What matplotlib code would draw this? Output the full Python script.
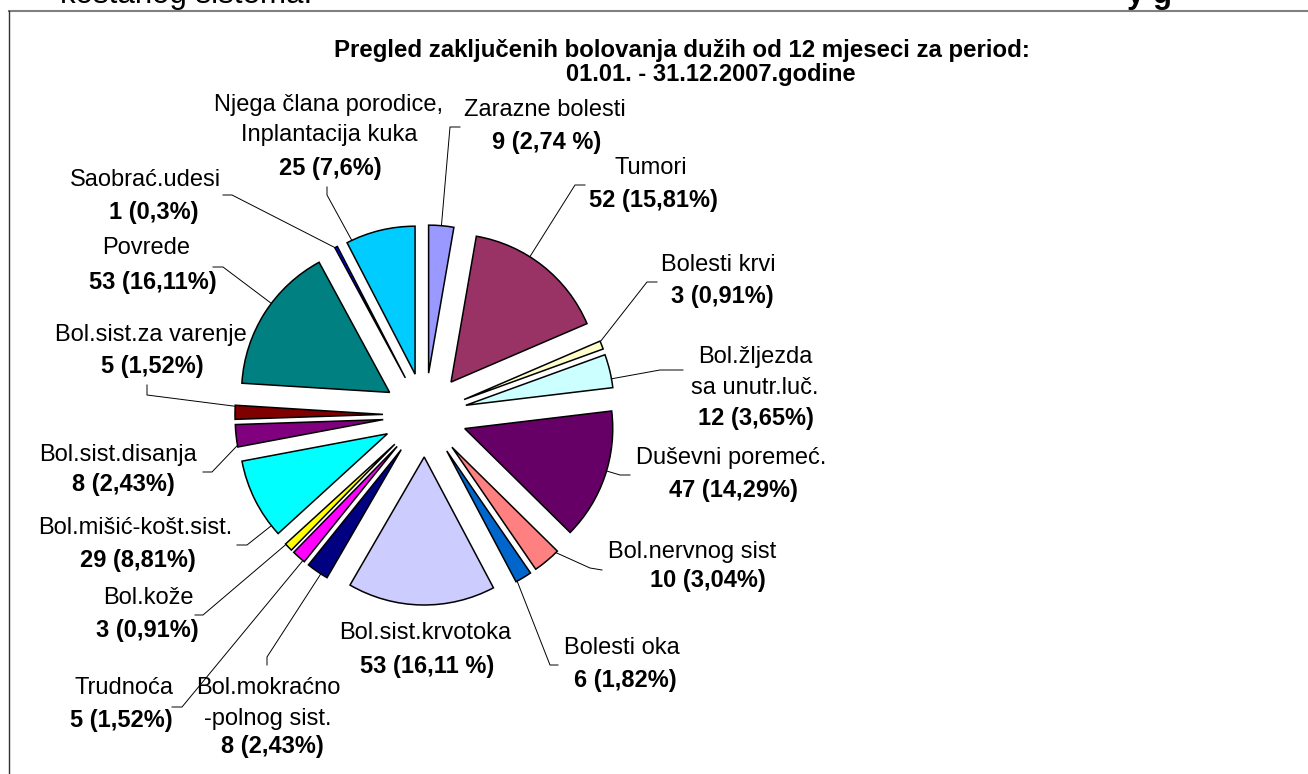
import math
import matplotlib.pyplot as plt

plt.rcParams['font.family'] = ['Liberation Sans', 'DejaVu Sans']

W, H = 1308, 774

# podaci
names = ["Zarazne bolesti", "Tumori", "Bolesti krvi", "Bol.žljezda\nsa unutr.luč.",
         "Duševni poremeć.", "Bol.nervnog sist", "Bolesti oka", "Bol.sist.krvotoka",
         "Bol.mokraćno\n-polnog sist.", "Trudnoća", "Bol.kože", "Bol.mišić-košt.sist.",
         "Bol.sist.disanja", "Bol.sist.za varenje", "Povrede", "Saobrać.udesi",
         "Njega člana porodice,\nInplantacija kuka"]
counts = [9, 52, 3, 12, 47, 10, 6, 53, 8, 5, 3, 29, 8, 5, 53, 1, 25]
value_labels = ["9 (2,74 %)", "52 (15,81%)", "3 (0,91%)", "12 (3,65%)", "47 (14,29%)",
                "10 (3,04%)", "6 (1,82%)", "53 (16,11 %)", "8 (2,43%)", "5 (1,52%)",
                "3 (0,91%)", "29 (8,81%)", "8 (2,43%)", "5 (1,52%)", "53 (16,11%)",
                "1 (0,3%)", "25 (7,6%)"]
colors = ["#9999FF", "#993366", "#FFFFCC", "#CCFFFF", "#660066", "#FF8080", "#0066CC",
          "#CCCCFF", "#000080", "#FF00FF", "#FFFF00", "#00FFFF", "#800080", "#800000",
          "#008080", "#0000FF", "#00CCFF"]
title1 = "Pregled zaključenih bolovanja dužih od 12 mjeseci za period:"
title2 = "01.01. - 31.12.2007.godine"

# raspored (pikseli slike)
CX, CY, R, EXPL = 425, 415, 148, 42
name_pos = [(545, 110), (651, 168), (718, 265), (755, 357), (731, 458), (692, 552),
            (622, 648), (425, 633), (268, 688), (124, 688), (148, 598), (135, 528),
            (118, 455), (151, 335), (146, 248), (145, 180), (329, 105)]
value_pos = [(547, 143), (653, 200), (722, 297), (756, 418), (733, 490), (708, 581),
             (625, 680), (427, 667), (272, 747), (121, 720), (147, 630), (138, 560),
             (123, 485), (152, 367), (153, 282), (154, 212), (330, 168)]
leaders = [((460, 127), (450, 127)), ((585, 185), (575, 185)), ((657, 282), (647, 282)),
           ((683, 370), (660, 370)), ((630, 475), (620, 475)), ((602, 570), (590, 568)),
           ((558, 665), (550, 665)), None, ((267, 665), (267, 657)),
           ((172, 707), (182, 707)), ((195, 615), (203, 615)), ((237, 545), (247, 545)),
           ((203, 472), (212, 472)), ((147, 385), (147, 395)), ((213, 267), (223, 267)),
           ((223, 195), (232, 195)), ((327, 187), (327, 195))]
LINE = 30.5
FS = 17


def d(x, y):
    # piksel -> koordinate grafikona (jedinica = poluprecnik)
    return (x - CX) / R, (CY - y) / R


fig = plt.figure(figsize=(W / 100, H / 100), dpi=100)
ax = fig.add_axes([0, 0, 1, 1])

wedges, _ = ax.pie(counts, colors=colors, startangle=90, counterclock=False,
                   radius=1, explode=[EXPL / R] * len(counts),
                   wedgeprops=dict(edgecolor='black', linewidth=1.1))
ax.set_aspect('auto')
ax.set_xlim(*[(v - CX) / R for v in (0, W)])
ax.set_ylim((CY - H) / R, CY / R)
ax.set_axis_off()

# linije do natpisa
for w, ld in zip(wedges, leaders):
    if ld is None:
        continue
    hook, elbow = d(*ld[0]), d(*ld[1])
    cx, cy = w.center
    a = math.degrees(math.atan2(elbow[1] - cy, elbow[0] - cx))
    mid = (w.theta1 + w.theta2) / 2
    half = (w.theta2 - w.theta1) / 2
    dd = (a - mid + 180) % 360 - 180
    dd = max(-0.85 * half, min(0.85 * half, dd))
    t = math.radians(mid + dd)
    tip = (cx + w.r * math.cos(t), cy + w.r * math.sin(t))
    ax.plot([hook[0], elbow[0], tip[0]], [hook[1], elbow[1], tip[1]],
            color='black', lw=0.7, zorder=0.5)

# natpisi
for name, val, (nx, ny), (vx, vy) in zip(names, value_labels, name_pos, value_pos):
    for i, line in enumerate(name.split("\n")):
        ax.text(*d(nx, ny + i * LINE), line, ha='center', va='center', fontsize=FS)
    ax.text(*d(vx, vy), val, ha='center', va='center', fontsize=FS, fontweight='bold')

ax.text(*d(682, 51), title1, ha='center', va='center', fontsize=FS + 0.3, fontweight='bold')
ax.text(*d(711, 74), title2, ha='center', va='center', fontsize=FS, fontweight='bold')

# okvir i odsjeceni tekst iznad
ax.plot(*zip(d(9, 11), d(W, 11)), color='#808080', lw=1.5, clip_on=False)
ax.plot(*zip(d(9, 11), d(9, H)), color='#303030', lw=1.0, clip_on=False)
ax.text(*d(60, 3), "koštanog sistema.", ha='left', va='baseline', fontsize=22.5)
ax.text(*d(1127, 3), "y g", ha='left', va='baseline', fontsize=22.5, fontweight='bold')

plt.savefig('out.png', dpi=100)
